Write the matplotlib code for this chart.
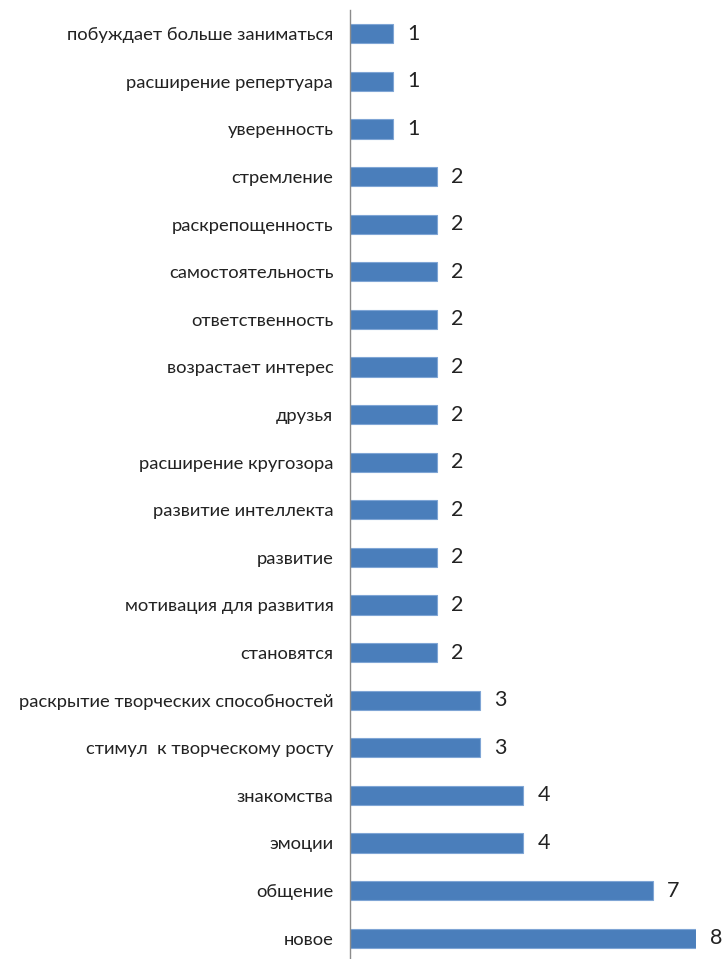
import numpy as np
import matplotlib.pyplot as plt

categories = [
    "новое",
    "общение",
    "эмоции",
    "знакомства",
    "стимул  к творческому росту",
    "раскрытие творческих способностей",
    "становятся",
    "мотивация для развития",
    "развитие",
    "развитие интеллекта",
    "расширение кругозора",
    "друзья",
    "возрастает интерес",
    "ответственность",
    "самостоятельность",
    "раскрепощенность",
    "стремление",
    "уверенность",
    "расширение репертуара",
    "побуждает больше заниматься",
]
values = [8, 7, 4, 4, 3, 3, 2, 2, 2, 2, 2, 2, 2, 2, 2, 2, 2, 1, 1, 1]

plt.rcParams['font.family'] = ['Lato', 'DejaVu Sans']

fig = plt.figure(figsize=(7.26, 9.59), dpi=100)
ax = fig.add_axes([350 / 726, -3 / 959, 346 / 726, 952 / 959])

y = np.arange(len(categories))
ax.barh(y, values, height=0.4, color="#4a7ebb", edgecolor="#7fa5d5", linewidth=0.8)

for yi, v in zip(y, values):
    ax.text(v + 0.33, yi, str(v), va="center", ha="left", fontsize=15.5, color="#222222")

ax.set_xlim(0, 8)
ax.set_ylim(-0.5, len(categories) - 0.5)
ax.set_yticks(y)
ax.set_yticklabels(categories, fontsize=13.2, color="#222222")
ax.tick_params(axis="y", length=0, pad=12)
ax.set_xticks([])
for side in ["top", "right", "bottom"]:
    ax.spines[side].set_visible(False)
ax.spines["left"].set_color("#8c8c8c")
ax.spines["left"].set_linewidth(1.0)

fig.savefig("out.png", dpi=100)
